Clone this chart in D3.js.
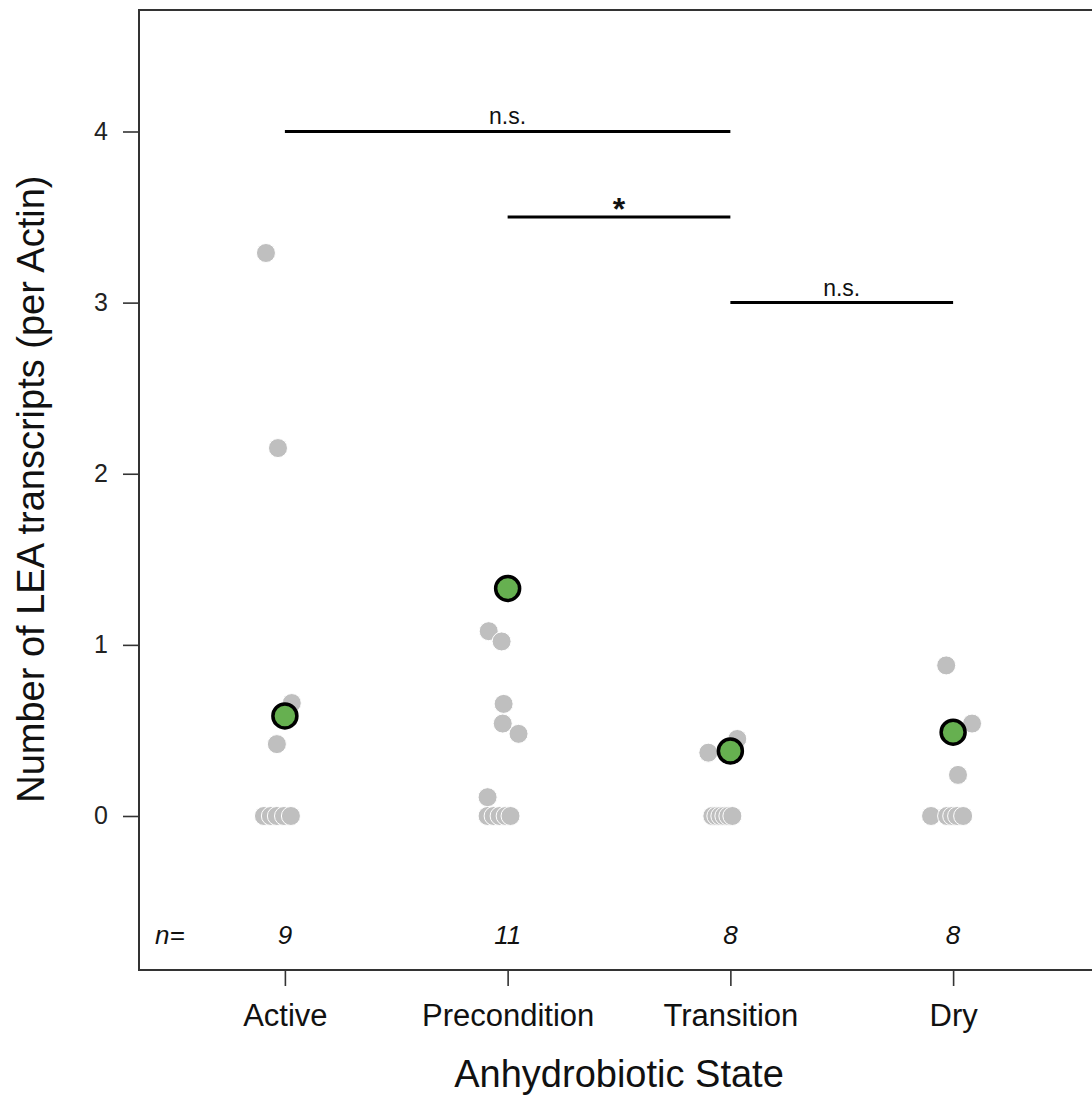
<!DOCTYPE html>
<html>
<head>
<meta charset="utf-8">
<script src="https://cdn.jsdelivr.net/npm/d3@7"></script>
<style>
  html, body { margin: 0; padding: 0; background: #fff; }
  svg { display: block; font-family: Arial, "Liberation Sans", sans-serif; }
</style>
</head>
<body>
<svg id="chart" width="1092" height="1096"></svg>
<script>
// ---- data ----
const categories = ["Active", "Precondition", "Transition", "Dry"];
const sampleSizes = ["9", "11", "8", "8"];
const activeValues = [3.29, 2.15, 0.66, 0.42, 0, 0, 0, 0, 0];
const activeJitter = [-0.085, -0.031, 0.031, -0.036, -0.094, -0.063, -0.036, -0.004, 0.027];
const preconditionValues = [1.08, 1.02, 0.655, 0.54, 0.48, 0.11, 0, 0, 0, 0, 0];
const preconditionJitter = [-0.085, -0.027, -0.018, -0.022, 0.049, -0.09, -0.09, -0.063, -0.036, -0.009, 0.013];
const transitionValues = [0.37, 0.45, 0, 0, 0, 0, 0, 0];
const transitionJitter = [-0.099, 0.031, -0.081, -0.063, -0.045, -0.027, -0.009, 0.009];
const dryValues = [0.88, 0.54, 0.24, 0, 0, 0, 0, 0];
const dryJitter = [-0.031, 0.085, 0.022, -0.099, -0.027, -0.004, 0.018, 0.045];
const groupMeans = [0.585, 1.33, 0.38, 0.49];
const yTicks = [0, 1, 2, 3, 4];
// significance brackets: [from category index, to category index, y value, label]
const bracketFrom = [0, 1, 2];
const bracketTo = [2, 2, 3];
const bracketY = [4, 3.5, 3];
const bracketLabels = ["n.s.", "*", "n.s."];

const groups = [
  { values: activeValues, jitter: activeJitter },
  { values: preconditionValues, jitter: preconditionJitter },
  { values: transitionValues, jitter: transitionJitter },
  { values: dryValues, jitter: dryJitter }
];

// ---- layout ----
const svg = d3.select("#chart");
const x = d3.scaleLinear().domain([0.345, 4.655]).range([139, 1099]);
const y = d3.scaleLinear().domain([-0.9, 4.71]).range([970, 10]);

// plot box
svg.append("rect")
  .attr("x", x(0.345)).attr("y", y(4.71))
  .attr("width", x(4.655) - x(0.345)).attr("height", y(-0.9) - y(4.71))
  .attr("fill", "none").attr("stroke", "#333").attr("stroke-width", 2);

// y axis
const yAxis = d3.axisLeft(y).tickValues(yTicks).tickSize(16).tickPadding(15).tickFormat(d3.format("d"));
const gy = svg.append("g").attr("transform", `translate(${x(0.345)},0)`).call(yAxis);
gy.select(".domain").remove();
gy.selectAll(".tick line").attr("stroke", "#333").attr("stroke-width", 1.6);
gy.selectAll(".tick text").attr("font-size", 25).attr("fill", "#222")
  .attr("font-family", "Arial, 'Liberation Sans', sans-serif");

// x axis
const xAxis = d3.axisBottom(x).tickValues([1, 2, 3, 4]).tickSize(16).tickPadding(18)
  .tickFormat((d, i) => categories[i]);
const gx = svg.append("g").attr("transform", `translate(0,${y(-0.9)})`).call(xAxis);
gx.select(".domain").remove();
gx.selectAll(".tick line").attr("stroke", "#333").attr("stroke-width", 1.6);
gx.selectAll(".tick text").attr("font-size", 31).attr("fill", "#111")
  .attr("font-family", "Arial, 'Liberation Sans', sans-serif");

// axis titles
svg.append("text")
  .attr("transform", `translate(44,${y(1.91)}) rotate(-90)`)
  .attr("text-anchor", "middle").attr("font-size", 38).attr("fill", "#111")
  .text("Number of LEA transcripts (per Actin)");
svg.append("text")
  .attr("x", (x(1) + x(4)) / 2).attr("y", 1087)
  .attr("text-anchor", "middle").attr("font-size", 38).attr("fill", "#111")
  .text("Anhydrobiotic State");

// gray points
groups.forEach((g, gi) => {
  svg.append("g").selectAll("circle")
    .data(g.values.map((v, i) => ({ v, j: g.jitter[i] })))
    .join("circle")
    .attr("cx", d => x(gi + 1 + d.j))
    .attr("cy", d => y(d.v))
    .attr("r", 9.5)
    .attr("fill", "#bfbfbf")
    .attr("stroke", "#ffffff")
    .attr("stroke-width", 1);
});

// mean points
svg.append("g").selectAll("circle")
  .data(groupMeans)
  .join("circle")
  .attr("cx", (d, i) => x(i + 1))
  .attr("cy", d => y(d))
  .attr("r", 12)
  .attr("fill", "#66b050")
  .attr("stroke", "#000")
  .attr("stroke-width", 3.5);

// significance brackets
bracketY.forEach((yv, i) => {
  const x1 = x(bracketFrom[i] + 1), x2 = x(bracketTo[i] + 1);
  svg.append("line")
    .attr("x1", x1).attr("x2", x2).attr("y1", y(yv)).attr("y2", y(yv))
    .attr("stroke", "#000").attr("stroke-width", 3);
  const isStar = bracketLabels[i] === "*";
  svg.append("text")
    .attr("x", (x1 + x2) / 2)
    .attr("y", isStar ? y(yv) + 3 : y(yv) - 7)
    .attr("text-anchor", "middle")
    .attr("font-size", isStar ? 32 : 23)
    .attr("font-weight", isStar ? "bold" : "normal")
    .attr("fill", "#111")
    .text(bracketLabels[i]);
});

// sample sizes
svg.append("text")
  .attr("x", 155).attr("y", y(-0.75))
  .attr("font-size", 26).attr("font-style", "italic").attr("fill", "#111")
  .text("n=");
svg.append("g").selectAll("text")
  .data(sampleSizes)
  .join("text")
  .attr("x", (d, i) => x(i + 1))
  .attr("y", y(-0.75))
  .attr("text-anchor", "middle")
  .attr("font-size", 26).attr("font-style", "italic").attr("fill", "#111")
  .text(d => d);
</script>
</body>
</html>
